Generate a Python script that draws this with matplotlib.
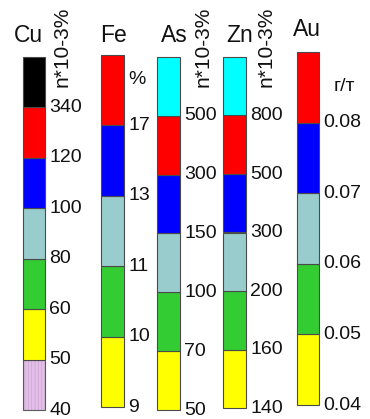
import matplotlib
matplotlib.use("Agg")
import matplotlib.pyplot as plt

plt.rcParams["font.family"] = ["Liberation Sans", "DejaVu Sans"]
plt.rcParams["hatch.linewidth"] = 0.6

# class colours
BLACK = "#000000"
RED = "#ff0000"
BLUE = "#0000ff"
GREY_BLUE = "#99cccc"
GREEN = "#33cc33"
YELLOW = "#ffff00"
CYAN = "#00ffff"
PINK = "#e3bfe8"

# class boundaries (bottom to top) and fill colours per element
cu_ticks = [40, 50, 60, 80, 100, 120, 340]
cu_colors = [PINK, YELLOW, GREEN, GREY_BLUE, BLUE, RED, BLACK]

fe_ticks = [9, 10, 11, 13, 17]
fe_colors = [YELLOW, GREEN, GREY_BLUE, BLUE, RED]

as_ticks = [50, 70, 100, 150, 300, 500]
as_colors = [YELLOW, GREEN, GREY_BLUE, BLUE, RED, CYAN]

zn_ticks = [140, 160, 200, 300, 500, 800]
zn_colors = [YELLOW, GREEN, GREY_BLUE, BLUE, RED, CYAN]

au_ticks = ["0.04", "0.05", "0.06", "0.07", "0.08"]
au_colors = [YELLOW, GREEN, GREY_BLUE, BLUE, RED]

W, H = 370, 419
fig = plt.figure(figsize=(W / 100, H / 100), dpi=100)


def column(x0, x1, y_top, y_bot, ticks, colors, title, title_xy, unit=None, unit_xy=None,
           rotated=None):
    ax = fig.add_axes([x0 / W, 1 - y_bot / H, (x1 - x0) / W, (y_bot - y_top) / H])
    n = len(colors)
    for i, c in enumerate(colors):
        if c == PINK:
            ax.bar(0, 1, bottom=i, width=1, color=c, edgecolor="#cfa6d8",
                   hatch="|||||", linewidth=0)
            ax.bar(0, 1, bottom=i, width=1, fill=False, edgecolor="#5a5a5a",
                   linewidth=0.8, clip_on=False)
        else:
            ax.bar(0, 1, bottom=i, width=1, color=c, edgecolor="#4a4a4a",
                   linewidth=0.8, clip_on=False)
    ax.set_xlim(-0.5, 0.5)
    ax.set_ylim(0, n)
    ax.set_xticks([])
    ax.set_yticks(range(len(ticks)))
    ax.set_yticklabels([str(t) for t in ticks])
    ax.yaxis.tick_right()
    ax.tick_params(axis="y", length=0, pad=3, labelsize=14, labelcolor="#111111")
    for tl in ax.get_yticklabels():
        tl.set_verticalalignment("center")
    for s in ax.spines.values():
        s.set_visible(False)
    fig.text(title_xy[0] / W, 1 - title_xy[1] / H, title, fontsize=16.5,
             ha="center", va="center", color="#111111")
    if unit is not None:
        fig.text(unit_xy[0] / W, 1 - unit_xy[1] / H, unit,
                 fontsize=14, ha="center", va="center", color="#111111")
    if rotated is not None:
        fig.text(rotated / W, 1 - 47 / H, "n*10-3%", rotation=90, fontsize=15,
                 ha="center", va="center", color="#111111")
    return ax


column(23, 45, 57, 410, cu_ticks, cu_colors, "Cu", (28, 36), rotated=62)
column(101, 124, 55, 407, fe_ticks, fe_colors, "Fe", (113, 36),
       unit="%", unit_xy=(137, 80))
column(157, 180, 57, 410, as_ticks, as_colors, "As", (174, 36), rotated=203)
column(223, 246, 57, 408, zn_ticks, zn_colors, "Zn", (240, 36), rotated=266)
column(297, 319, 52, 405, au_ticks, au_colors, "Au", (307, 29),
       unit="г/т", unit_xy=(344, 86))

fig.savefig("out.png", dpi=100)
